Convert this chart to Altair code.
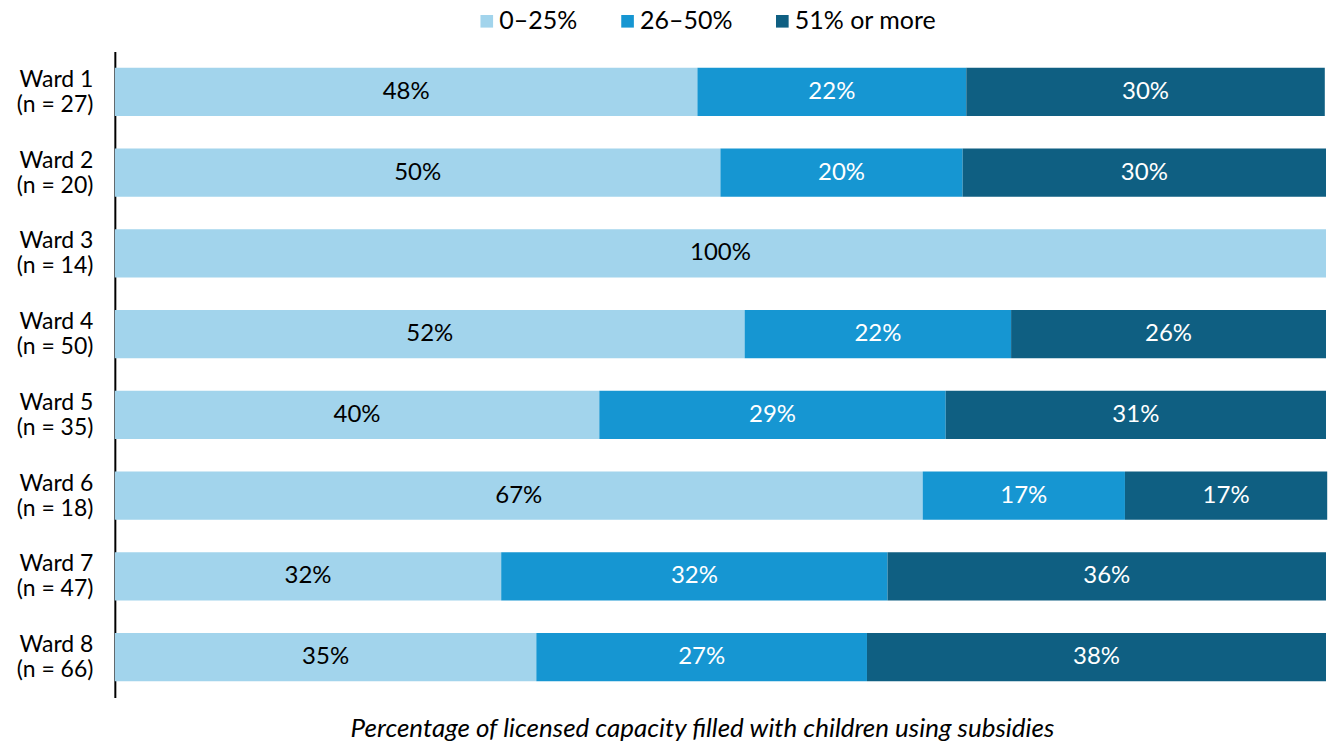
import altair as alt
import pandas as pd

wards = ["Ward 1", "Ward 2", "Ward 3", "Ward 4", "Ward 5", "Ward 6", "Ward 7", "Ward 8"]
ns = [27, 20, 14, 50, 35, 18, 47, 66]
categories = ["0–25%", "26–50%", "51% or more"]
low = [48.1, 50.0, 100.0, 52.0, 40.0, 66.7, 31.9, 34.8]
mid = [22.2, 20.0, 0.0, 22.0, 28.6, 16.7, 31.9, 27.3]
high = [29.6, 30.0, 0.0, 26.0, 31.4, 16.7, 36.2, 37.9]
colors = ["#a2d4ec", "#1696d2", "#0f5f82"]

rows = []
for i, w in enumerate(wards):
    for j, (cat, vals) in enumerate(zip(categories, [low, mid, high])):
        if vals[i] > 0:
            rows.append({"ward": f"{w}|(n = {ns[i]})", "cat": cat, "order": j, "pct": vals[i]})
df = pd.DataFrame(rows)
ward_order = [f"{w}|(n = {n})" for w, n in zip(wards, ns)]

FONT = "Lato"

base = alt.Chart(df).transform_stack(
    stack="pct", groupby=["ward"], sort=[alt.SortField("order")], as_=["x0", "x1"]
).transform_calculate(
    mid="(datum.x0 + datum.x1) / 2",
    lbl="format(round(datum.pct), 'd') + '%'"
)

y_enc = alt.Y(
    "ward:N", sort=ward_order, title=None,
    scale=alt.Scale(paddingInner=0.4, paddingOuter=0.2),
    axis=alt.Axis(
        labelExpr="split(datum.label, '|')", labelFont=FONT, labelFontSize=23,
        labelColor="#000", labelLineHeight=25, labelPadding=22, ticks=False,
        domain=True, domainColor="#000", domainWidth=2, grid=False,
        minExtent=107, maxExtent=107, labelAlign="right", labelBaseline="middle",
        labelOffset=-12,
    ),
)

bars = base.mark_bar(stroke=None).encode(
    x=alt.X("x0:Q", scale=alt.Scale(domain=[0, 100], nice=False, zero=True),
            axis=alt.Axis(
                title="Percentage of licensed capacity filled with children using subsidies",
                titleFont=FONT, titleFontSize=26, titleFontStyle="italic", titleFontWeight="normal",
                titleColor="#000", labels=False, ticks=False, domain=False, grid=False,
                titlePadding=18, titleX=588, titleAnchor="start", titleAlign="center",
            )),
    x2="x1:Q",
    y=y_enc,
    color=alt.Color("cat:N", scale=alt.Scale(domain=categories, range=colors),
                    legend=alt.Legend(
                        title=None, orient="none", direction="horizontal",
                        legendX=360, legendY=-43, labelFont=FONT, labelFontSize=25,
                        labelColor="#000", symbolType="square", symbolSize=160,
                        symbolStrokeWidth=0, columnPadding=37, labelOffset=0,
                        padding=0,
                    )),
    order=alt.Order("order:Q"),
)

text = base.mark_text(font=FONT, fontSize=24, baseline="middle", align="center").encode(
    x="mid:Q",
    y=alt.Y("ward:N", sort=ward_order),
    text="lbl:N",
    color=alt.condition("datum.order == 0", alt.value("#000"), alt.value("#fff")),
)

chart = alt.layer(bars, text).properties(
    width=1213, height=647, padding={"left": 0, "top": 0, "right": 0, "bottom": 0},
    background="#ffffff",
).configure_view(stroke=None)

chart.save("out.html", embed_options={"renderer": "svg", "actions": False})
